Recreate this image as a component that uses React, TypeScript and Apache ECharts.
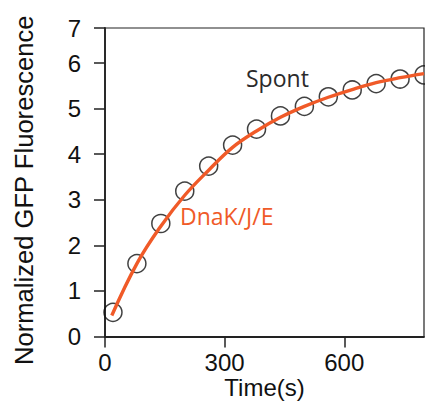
import React, { useEffect, useRef } from "react";
import * as echarts from "echarts";

// Measured time points (s) and normalized GFP fluorescence
const timePoints = [20, 80, 140, 200, 260, 320, 380, 440, 500, 560, 620, 680, 740, 800];
const spontValues = [0.53, 1.6, 2.48, 3.19, 3.74, 4.2, 4.55, 4.84, 5.05, 5.26, 5.41, 5.55, 5.65, 5.74];

// DnaK/J/E refolding curve
const curveTimes = [17, 80, 140, 200, 260, 320, 380, 440, 500, 560, 620, 680, 740, 800];
const curveValues = [0.46, 1.6, 2.42, 3.1, 3.65, 4.15, 4.51, 4.81, 5.05, 5.25, 5.42, 5.57, 5.68, 5.77];

const xTickStep = 300;
const xMax = 800;
const yMax = 6.77;

const ORANGE = "#f05a28";
const FONT = "Liberation Sans, Arial, sans-serif";

export default function App() {
  const ref = useRef<HTMLDivElement>(null);

  useEffect(() => {
    if (!ref.current) return;
    const chart = echarts.init(ref.current, undefined, { renderer: "svg" });
    chart.setOption({
      animation: false,
      backgroundColor: "#ffffff",
      grid: {
        left: 105,
        right: 1,
        top: 28,
        bottom: 66.5,
        containLabel: false,
        outerBoundsMode: "none",
        show: true,
        borderColor: "#222",
        borderWidth: 1.2,
      },
      xAxis: {
        type: "value",
        min: 0,
        max: xMax,
        interval: xTickStep,
        name: "Time(s)",
        nameLocation: "middle",
        nameGap: 39,
        nameMoveOverlap: false,
        nameTextStyle: { fontFamily: FONT, fontSize: 24, lineHeight: 24, color: "#111" },
        axisLine: { show: true, lineStyle: { color: "#222", width: 1.8 } },
        axisTick: { show: true, inside: false, length: 11, lineStyle: { color: "#222", width: 1.5 } },
        axisLabel: {
          margin: 14,
          fontFamily: FONT,
          fontSize: 24,
          color: "#111",
          showMaxLabel: false,
        },
        splitLine: { show: false },
      },
      yAxis: {
        type: "value",
        min: 0,
        max: yMax,
        interval: 1,
        name: "Normalized GFP Fluorescence",
        nameLocation: "middle",
        nameGap: 68,
        nameMoveOverlap: false,
        nameTextStyle: {
          fontFamily: FONT,
          fontSize: 25.6,
          color: "#111",
          padding: [0, 16, 0, 0],
        },
        axisLine: { show: true, lineStyle: { color: "#222", width: 1.8 } },
        axisTick: { show: true, inside: false, length: 11, lineStyle: { color: "#222", width: 1.5 } },
        axisLabel: {
          margin: 24,
          fontFamily: FONT,
          fontSize: 24,
          color: "#111",
          formatter: (v: number) => String(Math.round(v)),
        },
        splitLine: { show: false },
      },
      graphic: [
        {
          type: "text",
          left: 246,
          top: 66,
          style: { text: "Spont", fontFamily: "Open Sans, sans-serif", fontSize: 23, fill: "#2b2b2b" },
          z: 10,
        },
        {
          type: "text",
          left: 180,
          top: 204,
          style: { text: "DnaK/J/E", fontFamily: "Open Sans, sans-serif", fontSize: 23, fill: ORANGE },
          z: 10,
        },
      ],
      series: [
        {
          name: "Spont",
          type: "scatter",
          data: timePoints.map((t, i) => [t, spontValues[i]]),
          symbol: "circle",
          symbolSize: 18,
          itemStyle: { color: "rgba(0,0,0,0)", borderColor: "#111", borderWidth: 1.5 },
          z: 2,
        },
        {
          name: "DnaK/J/E",
          type: "line",
          data: curveTimes.map((t, i) => [t, curveValues[i]]),
          smooth: 0.4,
          showSymbol: false,
          symbol: "none",
          lineStyle: { color: ORANGE, width: 3.4 },
          z: 3,
        },
      ],
    });
    return () => chart.dispose();
  }, []);

  return (
    <div
      ref={ref}
      style={{ position: "fixed", left: 0, top: 0, width: 425, height: 403 }}
    />
  );
}
